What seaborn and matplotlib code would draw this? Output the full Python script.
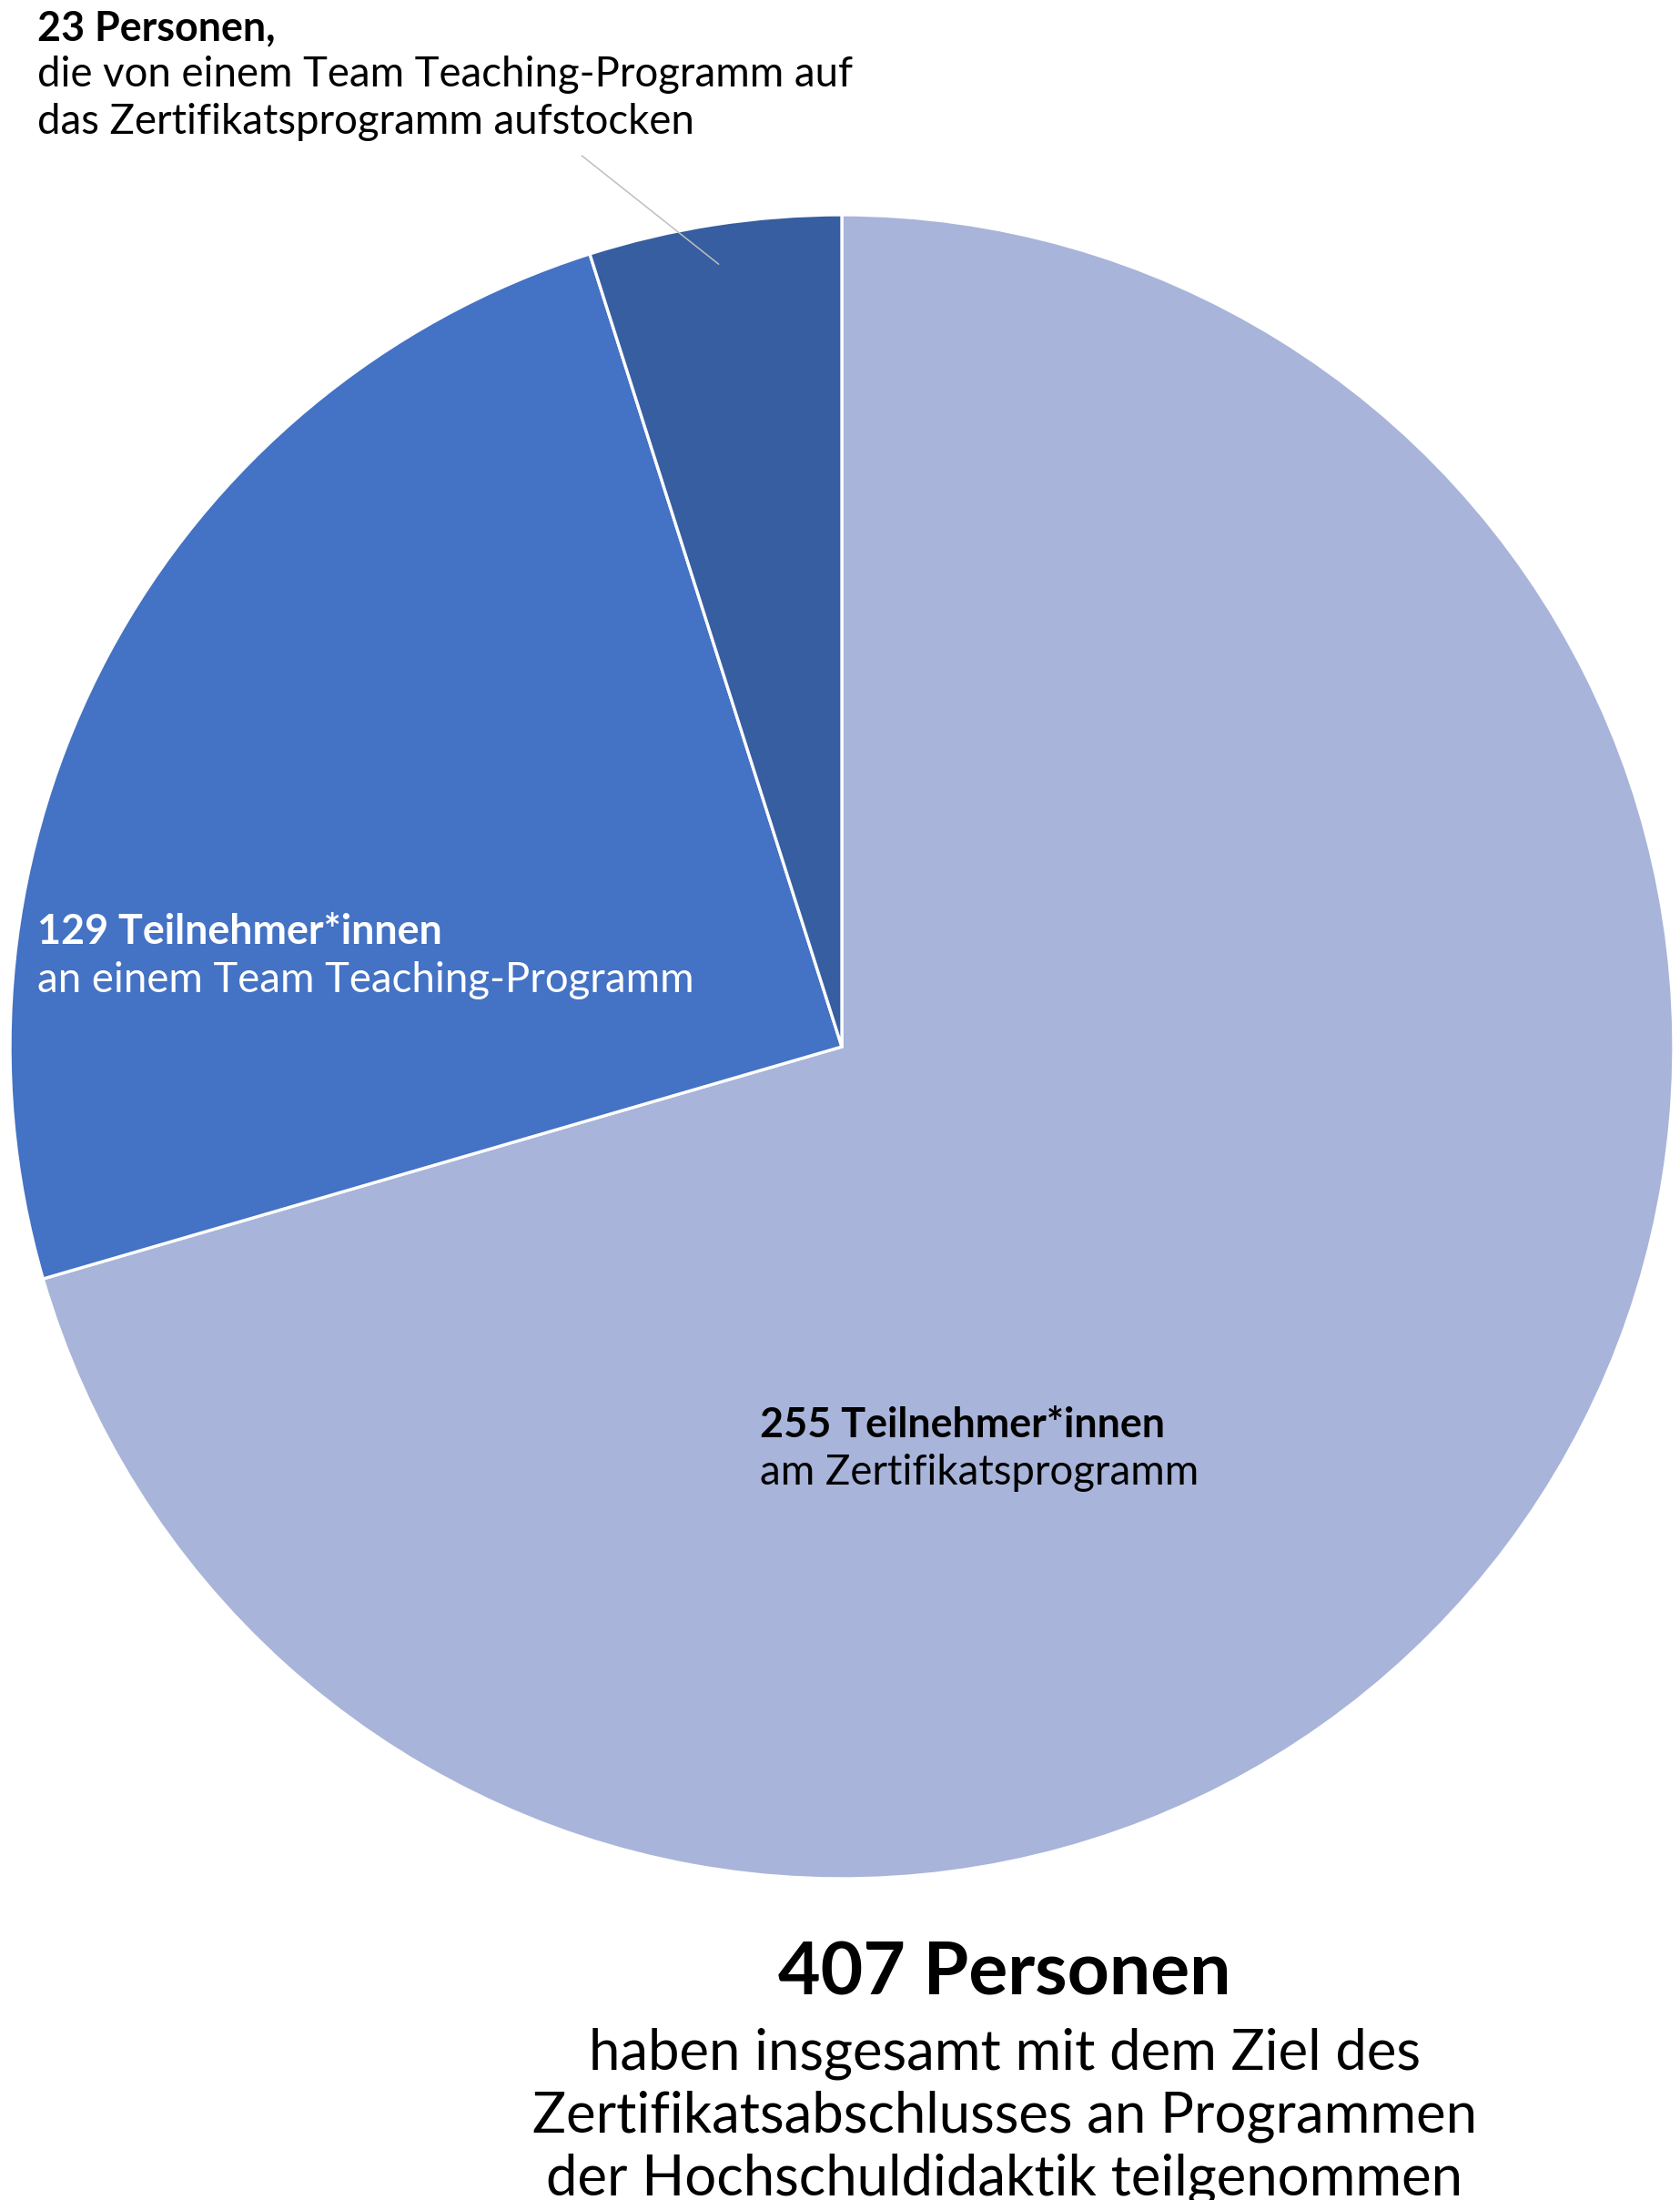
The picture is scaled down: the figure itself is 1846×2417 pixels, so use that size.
import numpy as np
import seaborn as sns
import matplotlib.pyplot as plt

# slice shares (percent of the circle), clockwise from 12 o'clock
segments = ['Zertifikatsprogramm', 'Team Teaching-Programm', 'Aufstocker']
shares = [70.5, 24.6, 4.9]
counts = [255, 129, 23]
total = 407
colors = ['#A8B4D9', '#4472C4', '#365EA0']

sns.set_theme(style='white')
plt.rcParams['font.family'] = ['Lato', 'DejaVu Sans']
plt.rcParams['text.color'] = 'black'

W, H = 1846, 2417
fig = plt.figure(figsize=(W / 100, H / 100), dpi=100)

# pie centre (925, 1150) px, radius 914 px
cx, cy, r = 925, 1150, 914
ax = fig.add_axes([(cx - r) / W, (H - cy - r) / H, 2 * r / W, 2 * r / H])
wedges, _ = ax.pie(shares, colors=colors, startangle=90, counterclock=False,
                   radius=1, wedgeprops=dict(edgecolor='white', linewidth=2.4))
ax.set_xlim(-1, 1)
ax.set_ylim(-1, 1)
ax.axis('off')


def fx(x):
    return x / W


def fy(y):
    return 1 - y / H


# leader line to the small slice
w = wedges[2]
mid = np.deg2rad((w.theta1 + w.theta2) / 2)
ax.annotate('', xy=(0.95 * np.cos(mid), 0.95 * np.sin(mid)), xytext=(-0.315, 1.073),
            arrowprops=dict(arrowstyle='-', color='#BFBFBF', lw=1.1), annotation_clip=False)

fs = 32.8
fb = 32.3
fig.text(fx(41), fy(31), f'{counts[2]} Personen,', fontsize=fb, fontweight='bold', va='center')
fig.text(fx(41), fy(82), 'die von einem Team Teaching-Programm auf', fontsize=fs, va='center')
fig.text(fx(41), fy(134), 'das Zertifikatsprogramm aufstocken', fontsize=fs, va='center')

fig.text(fx(41), fy(1024), f'{counts[1]} Teilnehmer*innen', fontsize=fb, fontweight='bold',
         va='center', color='white')
fig.text(fx(41), fy(1077), 'an einem Team Teaching-Programm', fontsize=fs, va='center', color='white')

fig.text(fx(835), fy(1566), f'{counts[0]} Teilnehmer*innen', fontsize=fb, fontweight='bold', va='center')
fig.text(fx(835), fy(1618), 'am Zertifikatsprogramm', fontsize=fs, va='center')

fig.text(fx(1104), fy(2169), f'{total} Personen', fontsize=58, fontweight='bold',
         va='center', ha='center')
sub = ['haben insgesamt mit dem Ziel des',
       'Zertifikatsabschlusses an Programmen',
       'der Hochschuldidaktik teilgenommen']
for i, line in enumerate(sub):
    fig.text(fx(1104), fy(2256 + 69 * i), line, fontsize=44.4, va='center', ha='center')

fig.savefig('out.png', dpi=100, facecolor='white')
